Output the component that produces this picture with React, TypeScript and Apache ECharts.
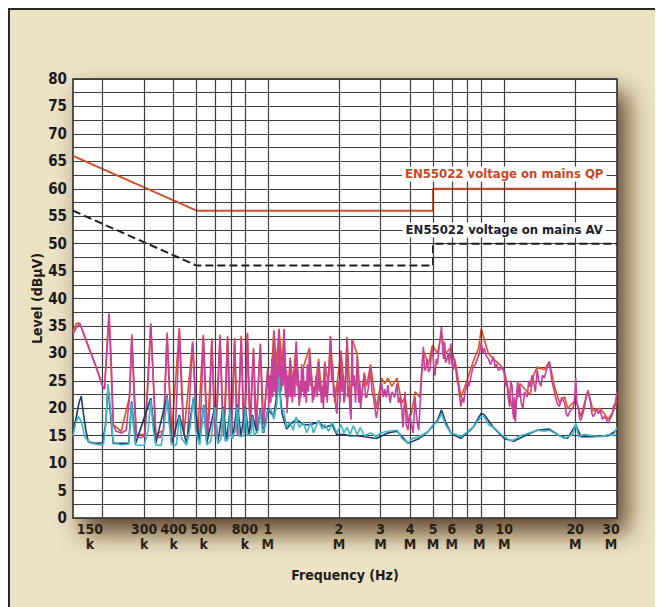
import React, { useEffect, useRef } from "react";
import * as echarts from "echarts";

// Frequencies in MHz, levels in dBµV
const QP_LIMIT: number[][] = [[0.15, 66], [0.5, 56], [5, 56], [5, 60], [30, 60]];
const AV_LIMIT: number[][] = [[0.15, 56], [0.5, 46], [5, 46], [5, 50], [30, 50]];

const QP_LABEL_POS: number[] = [10, 62.7];
const AV_LABEL_POS: number[] = [10, 52.5];
const QP_LABEL = "EN55022 voltage on mains QP";
const AV_LABEL = "EN55022 voltage on mains AV";

const GRID_FREQS: number[] = [0.2, 0.3, 0.4, 0.5, 0.6, 0.7, 0.8, 1, 2, 3, 4, 5, 6, 7, 8, 10, 20];
const TICK_FREQS: number[] = [0.15, 0.3, 0.4, 0.5, 0.8, 1, 2, 3, 4, 5, 6, 8, 10, 20, 30];
const TICK_NUMS: string[] = ["150", "300", "400", "500", "800", "1", "2", "3", "4", "5", "6", "8", "10", "20", "30"];
const TICK_UNITS: string[] = ["k", "k", "k", "k", "k", "M", "M", "M", "M", "M", "M", "M", "M", "M", "M"];

const QP_MEAS: number[][] = [
  [0.150, 34], [0.155, 35.5], [0.160, 35.5], [0.168, 33], [0.186, 28], [0.200, 24], [0.204, 23.5], [0.213, 37], [0.222, 17],
  [0.240, 15.8], [0.260, 22], [0.266, 33.5], [0.278, 15.2], [0.302, 15.2], [0.320, 35.5], [0.336, 15.2], [0.362, 16],
  [0.375, 33.8], [0.392, 15.2], [0.4226, 34.6], [0.442, 15.2], [0.481, 32.2], [0.505, 15.2], [0.534, 33.4], [0.556, 15],
  [0.58, 32.8], [0.60, 15], [0.628, 33.4], [0.65, 15], [0.676, 33.2], [0.70, 15.2], [0.724, 32.8], [0.745, 15.2],
  [0.772, 33.2], [0.795, 15.8], [0.82, 33.8], [0.843, 16.2], [0.87, 31], [0.895, 16.8], [0.93, 31.8], [0.96, 17.2],
  [1.0, 27.5], [1.02, 21.5], [1.061, 34.2], [1.09, 28], [1.115, 34.5], [1.15, 28], [1.172, 34.5], [1.207, 20],
  [1.243, 29.2], [1.28, 24.5], [1.319, 32.2], [1.36, 21], [1.414, 27.5], [1.50, 31], [1.56, 21.5], [1.641, 29],
  [1.70, 21], [1.741, 28.5], [1.80, 24.5], [1.84, 33.2], [1.92, 21], [2.04, 30.5], [2.12, 22.5], [2.164, 33],
  [2.25, 19], [2.275, 32.6], [2.39, 29.8], [2.47, 21], [2.56, 26.5], [2.62, 24], [2.72, 28], [2.80, 24], [2.88, 20],
  [3.03, 25.5], [3.12, 24.5], [3.22, 25.5], [3.35, 24], [3.52, 25.5], [3.69, 21], [3.81, 22], [3.92, 17.5], [4.05, 19],
  [4.2, 23], [4.4, 22], [4.55, 30.5], [4.78, 28], [4.97, 31.5], [5.22, 30], [5.43, 33.5], [5.65, 30], [5.94, 31],
  [6.24, 28], [6.56, 22], [6.89, 24.5], [7.39, 28.5], [7.8, 31], [8.0, 34.5], [8.24, 32.5], [8.57, 30], [9.0, 29],
  [9.55, 28], [10.0, 27], [10.55, 22], [10.98, 19], [11.65, 24.5], [12.86, 22.4], [13.3, 26], [13.79, 27.5],
  [14.77, 27], [15.52, 28.5], [16.31, 24], [17.13, 21], [18.0, 22.1], [18.55, 20], [20.08, 21.5], [21.1, 18.5],
  [22.6, 23.3], [23.76, 19.5], [25.46, 20], [27.55, 18], [28.95, 19.5], [30, 21.5],
];

const PK_MEAS: number[][] = [
  [0.150, 33.5], [0.154, 34.5], [0.160, 35.5], [0.168, 33.2], [0.177, 30.5], [0.186, 28], [0.195, 25.5], [0.200, 24],
  [0.204, 23.5], [0.208, 30], [0.213, 37.3], [0.218, 28], [0.222, 17], [0.228, 15.8], [0.240, 15.5], [0.252, 16],
  [0.260, 22], [0.266, 33], [0.272, 22], [0.278, 15], [0.290, 14.6], [0.302, 15], [0.312, 25], [0.320, 35.2],
  [0.328, 25], [0.336, 15], [0.350, 14.6], [0.362, 16], [0.369, 25], [0.375, 33.3], [0.383, 24], [0.392, 15],
  [0.405, 14.8], [0.414, 24], [0.4226, 34.3], [0.432, 23], [0.442, 15], [0.458, 15], [0.470, 24], [0.481, 31.9],
  [0.493, 22], [0.505, 15], [0.515, 14.8], [0.525, 23], [0.534, 33], [0.545, 22], [0.556, 14.8], [0.568, 20],
  [0.58, 32.4], [0.59, 22], [0.60, 14.8], [0.614, 22], [0.628, 33], [0.64, 21], [0.65, 14.8], [0.664, 22],
  [0.676, 32.8], [0.688, 20], [0.70, 15], [0.712, 22], [0.724, 32.4], [0.735, 20], [0.745, 15], [0.758, 23],
  [0.772, 32.8], [0.785, 20], [0.795, 15.5], [0.81, 23], [0.82, 33.5], [0.833, 21], [0.843, 16], [0.855, 24],
  [0.87, 30.6], [0.882, 20], [0.895, 16.5], [0.91, 24], [0.93, 31.5], [0.945, 21], [0.96, 17], [0.98, 22], [1.0, 27],
  [1.01, 20], [1.02, 26], [1.03, 21], [1.04, 29], [1.05, 22], [1.061, 34], [1.068, 23], [1.075, 30], [1.082, 22],
  [1.09, 28], [1.1, 23], [1.115, 34.3], [1.122, 24], [1.13, 31], [1.14, 23], [1.15, 28], [1.16, 24], [1.172, 34.3],
  [1.18, 25], [1.19, 22], [1.2, 27], [1.207, 19.1], [1.215, 26], [1.225, 22], [1.235, 25], [1.243, 28.8], [1.25, 22],
  [1.26, 26], [1.27, 21], [1.28, 24], [1.29, 27], [1.3, 22], [1.31, 28], [1.319, 31.9], [1.33, 24], [1.34, 27],
  [1.35, 22], [1.36, 20.4], [1.37, 25], [1.38, 22], [1.39, 28], [1.4, 23], [1.414, 27], [1.425, 22], [1.44, 25],
  [1.455, 21], [1.47, 28], [1.485, 23], [1.50, 30.6], [1.515, 24], [1.53, 26], [1.545, 21], [1.56, 24], [1.58, 22],
  [1.6, 26], [1.62, 22], [1.641, 28.5], [1.655, 23], [1.67, 25], [1.685, 21], [1.70, 24], [1.72, 20], [1.741, 28.2],
  [1.755, 22], [1.77, 25], [1.785, 21], [1.80, 24], [1.82, 27], [1.84, 33], [1.86, 25], [1.88, 28], [1.9, 22],
  [1.92, 24], [1.94, 20], [1.961, 19], [1.98, 24], [2.0, 25], [2.02, 21], [2.04, 30.3], [2.06, 23], [2.08, 26],
  [2.1, 21], [2.12, 22], [2.14, 27], [2.164, 32.8], [2.18, 22], [2.2, 24], [2.225, 20], [2.25, 17.9], [2.26, 25],
  [2.275, 32.4], [2.295, 24], [2.32, 26], [2.35, 21], [2.39, 29.5], [2.41, 23], [2.43, 21], [2.45, 25], [2.47, 20],
  [2.51, 23], [2.56, 26], [2.59, 22], [2.62, 22], [2.67, 24], [2.72, 27.5], [2.76, 23], [2.80, 22], [2.84, 20],
  [2.88, 18.2], [2.95, 21], [3.03, 24.6], [3.08, 22], [3.12, 23.5], [3.17, 22], [3.22, 24.2], [3.29, 21], [3.35, 23],
  [3.44, 22], [3.52, 24.5], [3.57, 21], [3.62, 22], [3.69, 19.7], [3.73, 16.5], [3.77, 20], [3.81, 23], [3.85, 17],
  [3.92, 16], [3.98, 19], [4.05, 17], [4.12, 15.5], [4.2, 22], [4.25, 19], [4.3, 17], [4.35, 16], [4.4, 20],
  [4.47, 26], [4.55, 31.2], [4.6, 27], [4.65, 27], [4.72, 29], [4.78, 26.6], [4.85, 27], [4.9, 29], [4.97, 31],
  [5.05, 27], [5.1, 26], [5.16, 29], [5.22, 28], [5.3, 31], [5.43, 34.8], [5.5, 30], [5.55, 29], [5.6, 32],
  [5.65, 28.3], [5.73, 29], [5.8, 30], [5.87, 28], [5.94, 31.8], [6.02, 28], [6.1, 27], [6.17, 29], [6.24, 27],
  [6.32, 25], [6.4, 24], [6.48, 22], [6.56, 20.3], [6.65, 22], [6.75, 21], [6.82, 23], [6.89, 23.5], [7.0, 25],
  [7.1, 24], [7.25, 26], [7.39, 27.6], [7.55, 28], [7.7, 29], [7.85, 30], [8.0, 32], [8.12, 30], [8.24, 31],
  [8.4, 29.5], [8.57, 29], [8.75, 28], [9.0, 29.4], [9.15, 27.5], [9.3, 28], [9.42, 27], [9.55, 27], [9.8, 27.5],
  [10.0, 26.4], [10.12, 24], [10.24, 25], [10.4, 22], [10.55, 20.3], [10.65, 25], [10.8, 24], [10.9, 19], [10.98, 18],
  [11.05, 22], [11.15, 17.3], [11.3, 23], [11.4, 25], [11.55, 22], [11.65, 24], [11.8, 21], [12.0, 20], [12.2, 23],
  [12.5, 22], [12.7, 25], [12.86, 23.9], [13.1, 26], [13.3, 25], [13.55, 23], [13.79, 27], [14.0, 25], [14.3, 24],
  [14.5, 26], [14.77, 25.5], [15.1, 27], [15.52, 28.5], [15.9, 25], [16.31, 23], [16.7, 21], [17.13, 20.3],
  [17.5, 22], [18.0, 21], [18.3, 19], [18.55, 18.5], [19.0, 19.5], [19.5, 20], [19.8, 21], [20.08, 25.5], [20.3, 21],
  [20.6, 20], [20.85, 18], [21.1, 17.8], [21.5, 19], [21.8, 20], [22.2, 22], [22.6, 23], [22.9, 22], [23.2, 21],
  [23.5, 19], [23.76, 18.5], [24.2, 19], [24.6, 20], [25.0, 19], [25.46, 19.7], [26.0, 18], [26.5, 18.5], [27.0, 18],
  [27.55, 17.3], [28.0, 18], [28.4, 18.5], [28.7, 19], [28.95, 20.3], [29.5, 21], [30, 23],
];

const AV_MEAS: number[][] = [
  [0.150, 15.5], [0.155, 18.5], [0.159, 21], [0.1625, 22.2], [0.166, 19], [0.170, 16], [0.174, 13.9], [0.185, 13.6],
  [0.200, 13.7], [0.206, 17], [0.211, 23.8], [0.217, 18], [0.222, 13.6], [0.258, 13.6], [0.2654, 21.2], [0.276, 13.6],
  [0.320, 21.8], [0.336, 13.6], [0.375, 22.3], [0.392, 13.6], [0.4226, 18.8], [0.453, 13.6], [0.4856, 22],
  [0.515, 13.6], [0.536, 20.6], [0.552, 13.6], [0.5976, 20.4], [0.615, 13.8], [0.647, 20.2], [0.67, 14], [0.693, 20],
  [0.71, 14.5], [0.743, 20.6], [0.77, 15], [0.804, 20.2], [0.83, 15.2], [0.862, 18.8], [0.90, 15.5], [0.93, 19.8],
  [0.96, 15.5], [1.0, 19.8], [1.06, 18.5], [1.115, 25], [1.15, 19], [1.20, 16.2], [1.243, 17], [1.319, 18],
  [1.414, 17], [1.52, 17], [1.64, 17.5], [1.74, 16.5], [1.87, 17], [1.96, 15.2], [2.10, 15.2], [2.23, 15], [2.39, 15],
  [2.56, 14.8], [2.88, 14.5], [3.22, 15.5], [3.52, 15.8], [3.92, 13.6], [4.37, 14.5], [4.78, 15.8], [5.22, 17.8],
  [5.43, 19.7], [5.65, 17.5], [5.94, 15.5], [6.56, 14.5], [7.39, 16.5], [8.0, 19.1], [8.24, 18.8], [9.0, 16.5],
  [10.0, 14.5], [10.98, 14], [12.24, 15], [13.79, 16], [15.52, 16.2], [17.13, 15], [18.55, 14.5], [20.08, 17],
  [21.1, 14.8], [23.76, 14.8], [27.55, 15], [30, 16],
];

const AV2_MEAS: number[][] = [
  [0.150, 15], [0.154, 17.3], [0.158, 18.5], [0.163, 17.5], [0.168, 14.8], [0.177, 13.7], [0.195, 13.3], [0.202, 13.5],
  [0.207, 18], [0.211, 24.4], [0.216, 20], [0.222, 13.8], [0.240, 13.3], [0.258, 13.5], [0.262, 17], [0.2654, 21],
  [0.270, 17], [0.276, 13.3], [0.30, 13.2], [0.312, 16], [0.320, 21.5], [0.328, 16], [0.336, 13.3], [0.354, 13.2],
  [0.365, 17], [0.375, 22.1], [0.383, 17], [0.392, 13.3], [0.410, 13.3], [0.4226, 18.5], [0.432, 14.5], [0.453, 13.3],
  [0.467, 16], [0.4856, 22], [0.495, 16], [0.515, 13.3], [0.536, 20.4], [0.552, 13.3], [0.574, 14], [0.5976, 20.2],
  [0.615, 13.5], [0.635, 14.5], [0.647, 20], [0.66, 14], [0.68, 14.5], [0.693, 19.8], [0.705, 14.5], [0.73, 16],
  [0.743, 20.4], [0.76, 14.8], [0.79, 15], [0.804, 20], [0.82, 15], [0.85, 15.5], [0.862, 18.5], [0.875, 15],
  [0.91, 16], [0.93, 19.5], [0.95, 15.5], [0.98, 17], [1.0, 19.5], [1.03, 20], [1.06, 18], [1.09, 20.5], [1.115, 25.7],
  [1.137, 20], [1.172, 19.5], [1.20, 16.5], [1.243, 17.5], [1.28, 16], [1.319, 18.4], [1.36, 16.5], [1.414, 17.5],
  [1.46, 15.5], [1.52, 17.5], [1.56, 15.5], [1.64, 17.8], [1.70, 16.2], [1.74, 17], [1.81, 15.8], [1.87, 17.5],
  [1.96, 15.5], [2.04, 17], [2.10, 15.5], [2.16, 16.5], [2.23, 15.2], [2.30, 16.8], [2.39, 15.2], [2.46, 16.5],
  [2.56, 15], [2.72, 15.5], [2.88, 14.8], [3.0, 15.5], [3.22, 15.8], [3.52, 16], [3.69, 14.5], [3.92, 13.6],
  [4.08, 14.5], [4.37, 14.8], [4.78, 15.8], [5.0, 17], [5.22, 17.5], [5.43, 19], [5.65, 17], [5.94, 15.5],
  [6.24, 15.2], [6.56, 14.8], [6.89, 15.5], [7.39, 16.5], [8.0, 18.5], [8.24, 18.5], [8.57, 17], [9.0, 16.6],
  [9.55, 15.5], [10.0, 14.8], [10.55, 14.2], [10.98, 14.2], [11.65, 15], [12.24, 15.2], [13.79, 16], [14.77, 15.8],
  [15.52, 16], [16.31, 15.5], [17.13, 15], [18.0, 14.5], [19.0, 15], [19.49, 15.2], [20.08, 17.3], [20.6, 14.8],
  [21.8, 15.2], [23.76, 15], [25.46, 14.8], [27.55, 15.2], [28.95, 15], [30, 16.5],
];

const FONT = '"Liberation Sans Narrow", "DejaVu Sans Condensed", "Arial Narrow", sans-serif';

// label padding (left, right) in px to nudge labels as in the reference
const TICK_PAD: number[][] = [[34, 0], [0, 0], [0, 0], [14, 0], [0, 0], [0, 0], [0, 0], [0, 0], [0, 0], [0, 0], [0, 0], [0, 4], [0, 0], [0, 0], [0, 12]];

export default function App() {
  const ref = useRef<HTMLDivElement>(null);
  useEffect(() => {
    if (!ref.current) return;
    const chart = echarts.init(ref.current, undefined, { renderer: "svg" });
    const option: any = {
      animation: false,
      backgroundColor: "transparent",
      grid: {
        show: true,
        left: 63,
        top: 69,
        width: 544,
        height: 439,
        backgroundColor: "#ffffff",
        borderColor: "#222",
        borderWidth: 1.5,
        shadowColor: "rgba(70,42,12,0.85)",
        shadowBlur: 24,
        shadowOffsetX: 10,
        shadowOffsetY: 14,
      },
      xAxis: {
        type: "log",
        logBase: 10,
        min: 0.15,
        max: 30,
        axisLine: { show: false },
        axisTick: { show: false },
        axisLabel: { show: false },
        splitLine: { show: false },
        minorSplitLine: { show: false },
        name: "Frequency (Hz)",
        nameLocation: "middle",
        nameGap: 50,
        nameMoveOverlap: false,
        nameTextStyle: { fontFamily: FONT, fontWeight: "bold", fontSize: 14, color: "#1e1a14" },
      },
      yAxis: {
        type: "value",
        min: 0,
        max: 80,
        interval: 2.5,
        axisLine: { show: false },
        axisTick: { show: false },
        axisLabel: {
          margin: 6,
          fontFamily: FONT,
          fontWeight: "bold",
          fontSize: 15,
          color: "#1a1a1a",
          formatter: (v: number) => (v % 5 === 0 ? String(v) : ""),
        },
        splitLine: { show: true, lineStyle: { color: "#3c3c3c", width: 1.2 } },
        name: "Level (dBµV)",
        nameLocation: "middle",
        nameRotate: 90,
        nameGap: 29,
        nameMoveOverlap: false,
        nameTextStyle: { fontFamily: FONT, fontWeight: "bold", fontSize: 14, color: "#1e1a14" },
      },
      series: [
        {
          type: "line",
          data: [],
          z: 1,
          silent: true,
          markLine: {
            silent: true,
            symbol: "none",
            animation: false,
            lineStyle: { color: "#3c3c3c", width: 1.2, type: "solid" },
            label: { show: false },
            data: GRID_FREQS.map((f) => ({ xAxis: f })),
          },
        },
        {
          type: "line",
          data: [],
          z: 1,
          silent: true,
          markLine: {
            silent: true,
            symbol: "none",
            animation: false,
            lineStyle: { color: "rgba(0,0,0,0)", width: 0 },
            data: TICK_FREQS.map((f, i) => ({
              xAxis: f,
              label: {
                show: true,
                position: "start",
                distance: 3,
                formatter: TICK_NUMS[i] + "\n" + TICK_UNITS[i],
                fontFamily: FONT,
                fontWeight: "bold",
                fontSize: 14,
                lineHeight: 15,
                color: "#2a1e12",
                align: "center",
                padding: [0, TICK_PAD[i][1], 0, TICK_PAD[i][0]],
              },
            })),
          },
        },
        {
          type: "line",
          data: QP_LIMIT,
          z: 3,
          symbol: "none",
          lineStyle: { color: "#d24e28", width: 2 },
          markPoint: {
            symbol: "rect",
            symbolSize: 0,
            silent: true,
            data: [{ coord: QP_LABEL_POS }],
            label: {
              show: true,
              position: "inside",
              formatter: QP_LABEL,
              fontFamily: FONT,
              fontWeight: "bold",
              fontSize: 13,
              color: "#c8481f",
              backgroundColor: "#ffffff",
              padding: [1, 3],
            },
          },
        },
        {
          type: "line",
          data: AV_LIMIT,
          z: 3,
          symbol: "none",
          lineStyle: { color: "#1c1c1c", width: 2, type: [8, 4] },
          markPoint: {
            symbol: "rect",
            symbolSize: 0,
            silent: true,
            data: [{ coord: AV_LABEL_POS }],
            label: {
              show: true,
              position: "inside",
              formatter: AV_LABEL,
              fontFamily: FONT,
              fontWeight: "bold",
              fontSize: 13,
              color: "#18202e",
              backgroundColor: "#ffffff",
              padding: [1, 3],
            },
          },
        },
        { type: "line", data: QP_MEAS, z: 4, symbol: "none", lineStyle: { color: "#dd5426", width: 1.6 } },
        { type: "line", data: PK_MEAS, z: 5, symbol: "none", lineStyle: { color: "#c8409a", width: 1.6 } },
        { type: "line", data: AV_MEAS, z: 6, symbol: "none", lineStyle: { color: "#1f3a66", width: 1.6 } },
        { type: "line", data: AV2_MEAS, z: 7, symbol: "none", lineStyle: { color: "#3db6c6", width: 1.6 } },
      ],
    };
    chart.setOption(option);
    return () => chart.dispose();
  }, []);

  return (
    <div
      style={{
        position: "fixed",
        left: 8,
        top: 8,
        width: 647,
        height: 599,
        boxSizing: "border-box",
        background: "#ece2c6",
        borderTop: "2px solid #2a2a2a",
        borderLeft: "2px solid #2a2a2a",
      }}
    >
      <div ref={ref} style={{ width: 645, height: 597 }} />
    </div>
  );
}
